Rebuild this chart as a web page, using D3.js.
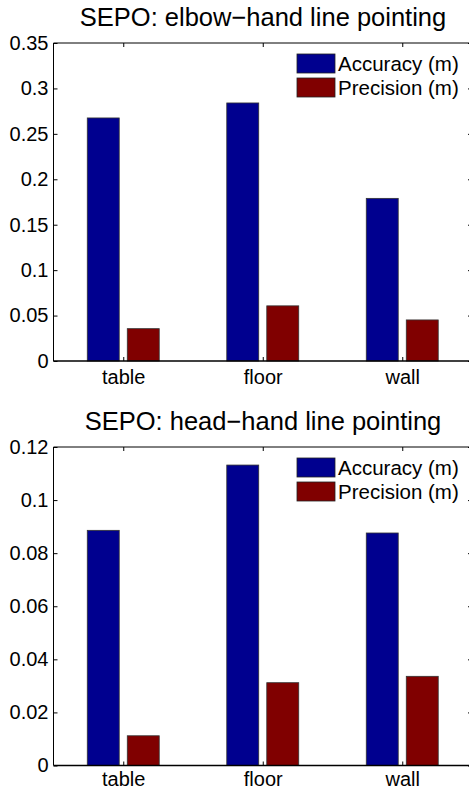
<!DOCTYPE html>
<html><head><meta charset="utf-8">
<script src="https://cdn.jsdelivr.net/npm/d3@7"></script>
<style>body{margin:0;background:#fff}svg{display:block}text{font-family:"Liberation Sans",Arial,sans-serif;fill:#000}</style>
</head><body>
<script>
const categories = ["table", "floor", "wall"];
const seriesNames = ["Accuracy (m)", "Precision (m)"];
const elbowAccuracy = [0.2675, 0.284, 0.179];
const elbowPrecision = [0.0356, 0.0607, 0.0452];
const headAccuracy = [0.0886, 0.1132, 0.0876];
const headPrecision = [0.0112, 0.0312, 0.0336];
const elbowTicks = [0, 0.05, 0.1, 0.15, 0.2, 0.25, 0.3, 0.35];
const headTicks = [0, 0.02, 0.04, 0.06, 0.08, 0.1, 0.12];
const titles = ["SEPO: elbow\u2212hand line pointing", "SEPO: head\u2212hand line pointing"];
const colors = ["#00008f", "#800000"];

const W = 469, H = 792;
const svg = d3.select("body").append("svg").attr("width", W).attr("height", H);

function panel(top, bottom, yMax, ticks, acc, prec, title, titleY, catY) {
  const g = svg.append("g");
  const x = d3.scaleLinear().domain([0.5, 3.5]).range([53.5, 472]);
  const y = d3.scaleLinear().domain([0, yMax]).range([bottom, top]);
  const off = 0.1434, bw = 0.229;
  const series = [acc, prec];
  series.forEach((vals, si) => {
    g.selectAll(null).data(vals).enter().append("rect")
      .attr("x", (d, i) => x(i + 1 + (si === 0 ? -off : off) - bw / 2))
      .attr("width", x(bw) - x(0))
      .attr("y", d => y(d))
      .attr("height", d => y(0) - y(d))
      .attr("fill", colors[si])
      .attr("stroke", "#333").attr("stroke-width", 0.8);
  });
  // frame
  g.append("path").attr("d", `M${x(0.5)},${top}H${x(3.5)}M${x(0.5)},${top}V${bottom}`)
    .attr("stroke", "#000").attr("fill", "none").attr("stroke-width", 1);
  g.append("line").attr("x1", x(0.5)).attr("x2", x(3.5)).attr("y1", bottom).attr("y2", bottom)
    .attr("stroke", "#000").attr("stroke-width", 1.5);
  // y axis
  const yAxis = d3.axisLeft(y).tickValues(ticks).tickSize(-4).tickPadding(5)
    .tickFormat(d => d3.format("")(+d.toFixed(2)));
  const ya = g.append("g").attr("transform", `translate(${x(0.5)},0)`).call(yAxis);
  ya.select(".domain").remove();
  ya.selectAll("text").attr("font-size", 20).attr("font-family", "Liberation Sans, Arial, sans-serif");
  ya.selectAll("line").attr("stroke", "#000");
  // right ticks
  const yr = g.append("g").attr("transform", `translate(${x(3.5)},0)`)
    .call(d3.axisRight(y).tickValues(ticks).tickSize(-4).tickFormat(""));
  yr.select(".domain").remove();
  // x axis
  const xa = g.append("g").attr("transform", `translate(0,${bottom})`)
    .call(d3.axisBottom(x).tickValues([1, 2, 3]).tickSize(-4).tickFormat((d, i) => categories[i]));
  xa.select(".domain").remove();
  xa.selectAll("text").attr("font-size", 20).attr("font-family", "Liberation Sans, Arial, sans-serif")
    .attr("y", null).attr("dy", null).attr("transform", `translate(0,${catY - bottom})`);
  const xt = g.append("g").attr("transform", `translate(0,${top})`)
    .call(d3.axisTop(x).tickValues([1, 2, 3]).tickSize(-4).tickFormat(""));
  xt.select(".domain").remove();
  // title
  g.append("text").attr("x", 263).attr("y", titleY).attr("text-anchor", "middle")
    .attr("font-size", 25.5).text(title);
  // legend
  const lg = g.append("g").attr("transform", `translate(297,${top + 11})`);
  seriesNames.forEach((n, i) => {
    lg.append("rect").attr("x", 0).attr("y", i * 24).attr("width", 38).attr("height", 19)
      .attr("fill", colors[i]).attr("stroke", "#222").attr("stroke-width", 0.8);
    lg.append("text").attr("x", 41).attr("y", i * 24 + 17).attr("font-size", 20.5).text(n);
  });
}

panel(43, 361, 0.35, elbowTicks, elbowAccuracy, elbowPrecision, titles[0], 26, 384);
panel(447, 765.5, 0.12, headTicks, headAccuracy, headPrecision, titles[1], 430, 786);
</script>
</body></html>
